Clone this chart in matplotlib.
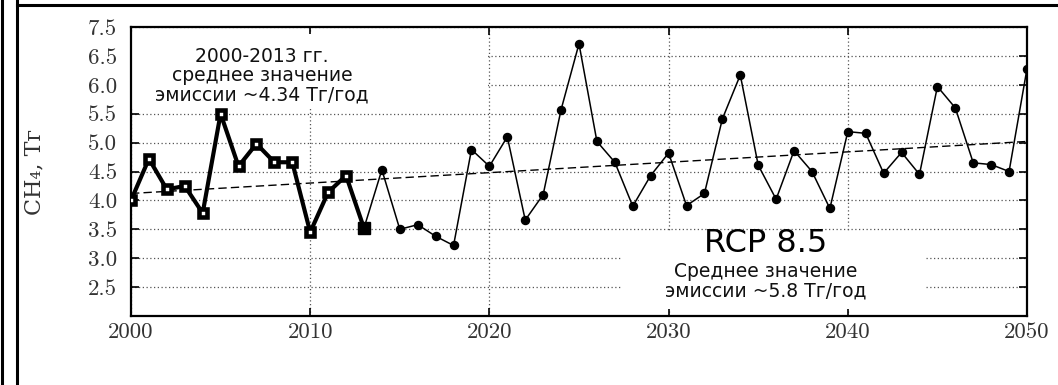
import matplotlib
matplotlib.use("Agg")
import matplotlib.pyplot as plt
from matplotlib.patches import Rectangle
from matplotlib.lines import Line2D

# --- data -------------------------------------------------------------
hist_years = list(range(2000, 2014))
hist_vals = [4.00, 4.72, 4.19, 4.25, 3.78, 5.50, 4.59, 4.98, 4.66, 4.66,
             3.45, 4.14, 4.43, 3.52]

proj_years = list(range(2013, 2051))
proj_vals = [3.52, 4.53, 3.50, 3.58, 3.38, 3.22, 4.88, 4.59, 5.10, 3.66,
             4.10, 5.57, 6.71, 5.02, 4.66, 3.90, 4.43, 4.82, 3.91, 4.12,
             5.41, 6.17, 4.61, 4.02, 4.86, 4.50, 3.86, 5.19, 5.16, 4.47,
             4.83, 4.45, 5.97, 5.60, 4.65, 4.62, 4.50, 6.28]

trend_years = [2000, 2050]
trend_vals = [4.12, 5.02]

x_ticks = [2000, 2010, 2020, 2030, 2040, 2050]
x_labels = ["2000", "2010", "2020", "2030", "2040", "2050"]
y_ticks = [2.5, 3.0, 3.5, 4.0, 4.5, 5.0, 5.5, 6.0, 6.5, 7.0]
y_labels = ["2.5", "3.0", "3.5", "4.0", "4.5", "5.0", "5.5", "6.0", "6.5", "7.5"]

text_hist = "2000-2013 гг.\nсреднее значение\nэмиссии ~4.34 Тг/год"
text_rcp = "RCP 8.5"
text_rcp_sub = "Среднее значение\nэмиссии ~5.8 Тг/год"
ylabel = "CH₄, Тг"

# --- figure -----------------------------------------------------------
W, H = 1058, 385
fig = plt.figure(figsize=(W / 100, H / 100), dpi=100)
ax = fig.add_axes([131 / W, 1 - 316 / H, (1027 - 131) / W, (316 - 27) / H])

ax.set_xlim(2000, 2050)
ax.set_ylim(2.0, 7.0)
ax.set_axisbelow(True)

ax.set_xticks(x_ticks, labels=x_labels, fontfamily="cmr10", fontsize=16.5, color="#333333")
ax.set_yticks(y_ticks, labels=y_labels, fontfamily="cmr10", fontsize=16.5, color="#333333")
ax.tick_params(direction="in", length=6, width=1.2, top=True, right=True, pad=5)
ax.tick_params(axis="y", pad=10)
ax.grid(True, color="#555555", linestyle=(0, (1, 2)), linewidth=0.9)
for s in ax.spines.values():
    s.set_linewidth(1.6)

# white boxes behind the annotations (hide grid lines)
ax.add_patch(Rectangle((2000, 5.62), 19.9, 1.26, facecolor="white",
                       edgecolor="none", zorder=1))
ax.add_patch(Rectangle((2027.4, 2.12), 16.9, 1.33, facecolor="white",
                       edgecolor="none", zorder=1))

# trend
ax.plot(trend_years, trend_vals, color="black", lw=1.0, dashes=(6, 3), zorder=2)

# projection
ax.plot(proj_years, proj_vals, color="black", lw=1.1, marker="o", ms=5.8,
        markevery=list(range(1, len(proj_years))), zorder=3)

# history
ax.plot(hist_years, hist_vals, color="black", lw=3.0, zorder=4)
ax.plot(hist_years[:-1], hist_vals[:-1], ls="none", marker="s", ms=5.4,
        mfc="white", mec="black", mew=3.3, zorder=5)
ax.plot(hist_years[-1:], hist_vals[-1:], ls="none", marker="s", ms=8.6,
        color="black", zorder=5)

# annotations
ax.text(2007.3, 6.16, text_hist, ha="center", va="center", fontsize=13.5,
        family="DejaVu Sans", linespacing=1.0, zorder=6, color="#111111")
ax.text(2035.4, 3.26, text_rcp, ha="center", va="center", fontsize=23,
        family="DejaVu Sans", zorder=6)
ax.text(2035.4, 2.6, text_rcp_sub, ha="center", va="center", fontsize=13.5,
        family="DejaVu Sans", linespacing=1.0, zorder=6, color="#111111")

ax.set_ylabel(ylabel, family="DejaVu Serif", fontsize=16, color="#333333")
ax.yaxis.set_label_coords(-0.096, 0.5)

# outer page frame lines
fig.add_artist(Line2D([2 / W, 2 / W], [0, 1], color="black", lw=2.2,
                      transform=fig.transFigure))
fig.add_artist(Line2D([17 / W, 17 / W], [0, 1], color="black", lw=2.2,
                      transform=fig.transFigure))
fig.add_artist(Line2D([17 / W, 1], [1 - 5 / H, 1 - 5 / H], color="black",
                      lw=2.2, transform=fig.transFigure))

fig.savefig("out.png", dpi=100)
